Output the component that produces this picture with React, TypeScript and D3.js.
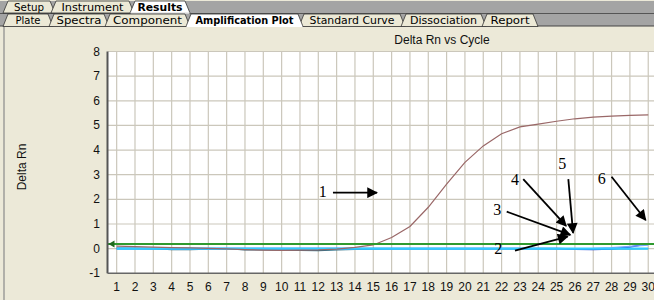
import React from "react";
import * as d3 from "d3";

// ---- data ----
const cycles = d3.range(1, 31);
const yTicks = [-1, 0, 1, 2, 3, 4, 5, 6, 7, 8];
const chartTitle = "Delta Rn vs Cycle";
const yLabel = "Delta Rn";
const threshold = 0.19;

const sample1 = [0.1, 0.08, 0.06, 0.04, 0.03, 0.01, -0.01, -0.04, -0.06, -0.07, -0.06, -0.05, -0.02, 0.05, 0.15, 0.45, 0.9, 1.68, 2.62, 3.5, 4.17, 4.66, 4.94, 5.05, 5.17, 5.27, 5.34, 5.38, 5.41, 5.43];
const sample3 = [0.02, 0.01, 0.0, -0.04, -0.04, -0.02, 0.0, -0.05, -0.05, -0.06, -0.07, -0.08, -0.05, -0.03, -0.01, 0, 0, 0, 0, 0, 0, 0, 0, 0, 0, 0, 0, -0.01, -0.01, 0];
const sample4 = [0, 0, 0, 0, 0, 0, 0, 0, 0, 0, 0, 0, 0, 0, 0, 0, 0, 0, 0, 0, 0, 0, 0, 0, 0, -0.02, -0.03, -0.01, 0.07, 0.2];
const sample5 = [0, 0, 0, 0, 0, 0, 0, 0, 0, 0, 0, 0, 0, 0, 0, 0, 0, 0, 0, 0, 0, 0, 0, 0, 0, 0, 0.01, 0.04, 0.09, 0.14];
const sample2 = [0, 0, 0, 0, 0, 0, 0, 0, 0, 0, 0, 0, 0, 0, 0, 0, 0, 0, 0, 0, 0, 0, 0, 0, 0, 0, 0, 0, 0, 0];

const seriesList = [
  { name: "s3", values: sample3, color: "#2e6f86", width: 1.4 },
  { name: "s4", values: sample4, color: "#2040d0", width: 1.6 },
  { name: "s5", values: sample5, color: "#7aa4ff", width: 1.2 },
  { name: "s2", values: sample2, color: "#33ccff", width: 2.2 },
  { name: "s1", values: sample1, color: "#9a6868", width: 1.2 },
];

// annotations: label, text position, arrow start, arrow end (cycle, value)
const annotations = [
  { label: "1", tx: 12.24, tv: 2.31, x1: 12.8, v1: 2.27, x2: 15.2, v2: 2.27 },
  { label: "2", tx: 21.82, tv: 0.0, x1: 22.73, v1: -0.08, x2: 25.6, v2: 0.49 },
  { label: "3", tx: 21.76, tv: 1.57, x1: 22.28, v1: 1.5, x2: 25.75, v2: 0.56 },
  { label: "4", tx: 22.73, tv: 2.8, x1: 23.18, v1: 2.82, x2: 25.52, v2: 0.92 },
  { label: "5", tx: 25.31, tv: 3.46, x1: 25.64, v1: 2.82, x2: 25.9, v2: 0.64 },
  { label: "6", tx: 27.46, tv: 2.86, x1: 28.0, v1: 2.92, x2: 29.86, v2: 1.16 },
];

const tabsRow1 = [
  { label: "Setup", x0: 3, x1: 55, tw: 30 },
  { label: "Instrument", x0: 51, x1: 134, tw: 62 },
  { label: "Results", x0: 130, x1: 190, tw: 45, active: true },
];
const tabsRow2 = [
  { label: "Plate", x0: 3, x1: 53, tw: 25 },
  { label: "Spectra", x0: 49, x1: 109, tw: 45 },
  { label: "Component", x0: 105, x1: 190, tw: 69 },
  { label: "Standard Curve", x0: 299, x1: 405, tw: 85 },
  { label: "Dissociation", x0: 401, x1: 486, tw: 67 },
  { label: "Report", x0: 482, x1: 538, tw: 39 },
  { label: "Amplification Plot", x0: 186, x1: 303, tw: 98, active: true },
];

const W = 654;
const H = 300;
const plotLeft = 107.5;
const plotTop = 51.5;
const plotBottom = 273.3;
const cycleStep = 18.33;
const SANS = "'Liberation Sans', Arial, sans-serif";
const SERIF = "'Liberation Serif', 'Times New Roman', serif";

export default function App() {
  const x = d3.scaleLinear().domain([0.5, 30.5]).range([plotLeft, plotLeft + 30 * cycleStep]);
  const y = d3.scaleLinear().domain([-1, 8]).range([plotBottom, plotTop]);
  const line = d3
    .line<number>()
    .x((_, i) => x(cycles[i]))
    .y((d) => y(d));

  const tab = (t: any, yt: number, yb: number) => {
    const pts = [
      [t.x0, yb],
      [t.x0 + 5, yt],
      [t.x1 - 5, yt],
      [t.x1, yb],
    ]
      .map((p) => p.join(","))
      .join(" ");
    return (
      <g key={t.label}>
        <polygon points={pts} fill={t.active ? "#ffffff" : "#ece9d6"} stroke="#333" strokeWidth={0.8} />
        {t.active && <line x1={t.x0 + 0.5} x2={t.x1 - 0.5} y1={yb} y2={yb} stroke="#ffffff" strokeWidth={1.5} />}
        <text
          x={(t.x0 + t.x1) / 2}
          y={yb - 2.5}
          textAnchor="middle"
          fontFamily="'DejaVu Sans', Verdana, sans-serif"
          fontSize={10}
          fontWeight={t.active ? "bold" : "normal"}
          textLength={t.tw}
          lengthAdjust="spacingAndGlyphs"
          fill="#000"
        >
          {t.label}
        </text>
      </g>
    );
  };

  return (
    <svg width={W} height={H} style={{ position: "fixed", left: 0, top: 0, display: "block" }}>
      <defs>
        <marker id="ah" viewBox="0 0 10 10" refX="9" refY="5" markerWidth="7" markerHeight="6" orient="auto" markerUnits="strokeWidth">
          <path d="M0,0 L10,5 L0,10 z" fill="#000" />
        </marker>
        <clipPath id="plotclip">
          <rect x={plotLeft} y={plotTop - 2} width={W - plotLeft} height={plotBottom - plotTop + 2} />
        </clipPath>
      </defs>
      <rect x={0} y={0} width={W} height={H} fill="#ece9d8" />
      {/* tab strip */}
      <rect x={0} y={1} width={W} height={25} fill="#a4a4a4" />
      <line x1={0} x2={W} y1={13.5} y2={13.5} stroke="#555" strokeWidth={1} />
      <line x1={0} x2={W} y1={26} y2={26} stroke="#444" strokeWidth={1} />
      {tabsRow1.map((t) => tab(t, 1, 13))}
      {tabsRow2.map((t) => tab(t, 14, 26.5))}
      <rect x={0} y={27} width={W} height={H - 27} fill="#ece9d8" />
      <line x1={4} x2={4} y1={27} y2={H} stroke="#8a8a8a" strokeWidth={1.2} />

      {/* title */}
      <text x={442} y={44} textAnchor="middle" fontFamily={SANS} fontSize={12} fill="#111">
        {chartTitle}
      </text>
      {/* y label */}
      <text transform={`translate(26,167) rotate(-90)`} textAnchor="middle" fontFamily={SANS} fontSize={12} fill="#111">
        {yLabel}
      </text>

      {/* plot background */}
      <rect x={plotLeft} y={plotTop} width={W - plotLeft} height={plotBottom - plotTop} fill="#ffffff" />
      <g clipPath="url(#plotclip)">
        {cycles.map((c) => (
          <line key={"v" + c} x1={x(c)} x2={x(c)} y1={plotTop} y2={plotBottom} stroke="#cbc7bb" strokeWidth={1.2} />
        ))}
        {yTicks
          .filter((t) => t > -1)
          .map((t) => (
            <line key={"h" + t} x1={plotLeft} x2={W} y1={y(t)} y2={y(t)} stroke="#cbc7bb" strokeWidth={1.2} />
          ))}
        {seriesList.map((s) => (
          <path key={s.name} d={line(s.values) || ""} fill="none" stroke={s.color} strokeWidth={s.width} />
        ))}
        <line x1={plotLeft} x2={W} y1={y(threshold)} y2={y(threshold)} stroke="#2f9a2f" strokeWidth={2} />
        <path
          d={`M${plotLeft + 1},${y(threshold)} L${plotLeft + 7},${y(threshold) - 3.5} L${plotLeft + 7},${y(threshold) + 3.5} z`}
          fill="#1f6a1f"
        />
      </g>
      {/* axes */}
      <line x1={plotLeft} x2={plotLeft} y1={plotTop} y2={plotBottom} stroke="#555" strokeWidth={2} />
      <line x1={plotLeft} x2={W} y1={plotBottom} y2={plotBottom} stroke="#666" strokeWidth={1.5} />

      {yTicks.map((t) => (
        <text key={"yl" + t} x={100} y={y(t) + 4} textAnchor="end" fontFamily={SANS} fontSize={12} fill="#111">
          {t}
        </text>
      ))}
      {cycles.map((c) => (
        <text key={"xl" + c} x={x(c)} y={291} textAnchor="middle" fontFamily={SANS} fontSize={12} fill="#111">
          {c}
        </text>
      ))}

      {/* annotations */}
      {annotations.map((a) => (
        <g key={"a" + a.label}>
          <line x1={x(a.x1)} y1={y(a.v1)} x2={x(a.x2)} y2={y(a.v2)} stroke="#000" strokeWidth={1.8} markerEnd="url(#ah)" />
          <text x={x(a.tx)} y={y(a.tv) + 5.5} textAnchor="middle" fontFamily={SERIF} fontSize={16} fill="#000">
            {a.label}
          </text>
        </g>
      ))}
    </svg>
  );
}
